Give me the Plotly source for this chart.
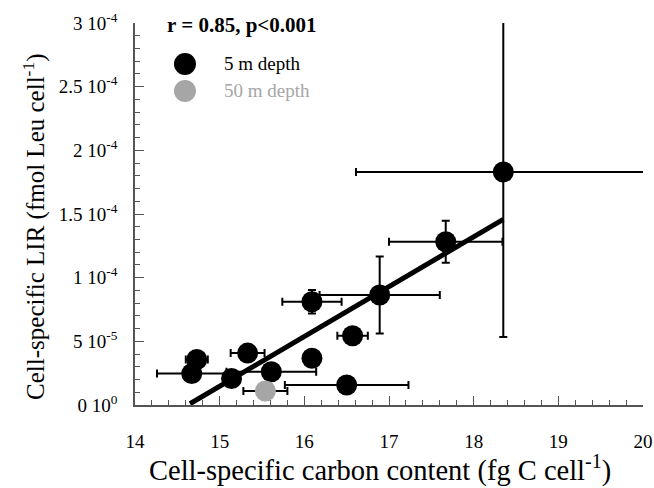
import plotly.graph_objects as go

# 5 m depth data
x5 = [14.73, 14.67, 15.14, 15.33, 15.61, 16.09, 16.09, 16.57, 16.50, 16.89, 17.67, 18.35]
y5 = [3.57e-5, 2.47e-5, 2.08e-5, 4.08e-5, 2.61e-5, 8.11e-5, 3.67e-5, 5.44e-5, 1.57e-5, 8.64e-5, 1.282e-4, 1.83e-4]
x5_err = [0.13, 0.41, 0.0, 0.20, 0.53, 0.35, 0.0, 0.18, 0.73, 0.71, 0.67, 1.74]
y5_err = [0.0, 0.0, 0.0, 0.0, 0.0, 0.92e-5, 0.0, 0.0, 0.0, 3.02e-5, 1.65e-5, 1.295e-4]

# 50 m depth data
x50 = [15.54]
y50 = [1.10e-5]
x50_err = [0.26]
y50_err = [0.0]

# regression line endpoints
fit_x = [14.65, 18.35]
fit_y = [0.1e-5, 1.458e-4]

ytick_vals = [0, 5e-5, 1e-4, 1.5e-4, 2e-4, 2.5e-4, 3e-4]
ytick_text = ["0 10<sup>0</sup>", "5 10<sup>-5</sup>", "1 10<sup>-4</sup>", "1.5 10<sup>-4</sup>",
              "2 10<sup>-4</sup>", "2.5 10<sup>-4</sup>", "3 10<sup>-4</sup>"]
xtick_vals = [14, 15, 16, 17, 18, 19, 20]

legend_labels = ["5 m depth", "50 m depth"]

FONT = "Liberation Serif, Times New Roman, serif"
GRAY = "#a6a6a6"
AXC = "#555555"

fig = go.Figure()

fig.add_trace(go.Scatter(
    x=fit_x, y=fit_y, mode="lines", line=dict(color="black", width=5),
    showlegend=False, hoverinfo="skip"))

fig.add_trace(go.Scatter(
    x=x5, y=y5, mode="markers", name=legend_labels[0], showlegend=False,
    marker=dict(color="black", size=21),
    error_x=dict(type="data", array=x5_err, color="black", thickness=2, width=4),
    error_y=dict(type="data", array=y5_err, color="black", thickness=2, width=4)))

fig.add_trace(go.Scatter(
    x=x50, y=y50, mode="markers", name=legend_labels[1], showlegend=False,
    marker=dict(color=GRAY, size=21),
    error_x=dict(type="data", array=x50_err, color="black", thickness=2, width=4),
    error_y=dict(type="data", array=y50_err, color="black", thickness=2, width=4)))

axis_common = dict(
    showline=True, linecolor=AXC, linewidth=1.5, mirror=False,
    showgrid=False, zeroline=False,
    ticks="inside", ticklen=9, tickwidth=1.2, tickcolor=AXC,
    tickfont=dict(family=FONT, size=19, color="black"),
)

fig.update_xaxes(
    range=[14, 20], tickvals=xtick_vals,
    minor=dict(ticks="inside", ticklen=5, tickcolor=AXC, dtick=0.2, tick0=14),
    ticklabelstandoff=18, **axis_common)

fig.update_yaxes(
    range=[0, 3e-4], tickvals=ytick_vals, ticktext=ytick_text,
    minor=dict(ticks="inside", ticklen=5, tickcolor=AXC, dtick=1e-5, tick0=0),
    ticklabelstandoff=12, **axis_common)

# axis titles
fig.add_annotation(
    x=0.482, y=-0.167, xref="paper", yref="paper", xanchor="center", yanchor="middle",
    text="Cell-specific carbon content (fg C cell<sup>-1</sup>)", showarrow=False,
    font=dict(family=FONT, size=28.5, color="black"))
fig.add_annotation(
    x=-0.197, y=0.466, xref="paper", yref="paper", xanchor="center", yanchor="middle",
    text="Cell-specific LIR (fmol Leu cell<sup>-1</sup>)", showarrow=False, textangle=-90,
    font=dict(family=FONT, size=25, color="black"))

# correlation text
fig.add_annotation(
    x=0.059, y=0.995, xref="paper", yref="paper", xanchor="left", yanchor="middle",
    text="<b>r = 0.85, p<0.001</b>", showarrow=False,
    font=dict(family=FONT, size=21, color="black"))

# legend (drawn manually)
leg_rows = [(0.8927, "black", "black"), (0.822, GRAY, GRAY)]
for (yy, mcol, tcol), lab in zip(leg_rows, legend_labels):
    fig.add_shape(type="circle", xref="paper", yref="paper",
                  xsizemode="pixel", ysizemode="pixel", xanchor=0.0984, yanchor=yy,
                  x0=-11, x1=11, y0=-11, y1=11, fillcolor=mcol, line=dict(width=0))
    fig.add_annotation(x=0.1713, y=yy, xref="paper", yref="paper", xanchor="left",
                       yanchor="middle", text=lab, showarrow=False,
                       font=dict(family=FONT, size=19, color=tcol))

fig.update_layout(
    width=654, height=488,
    margin=dict(l=135, r=11, t=23, b=83, autoexpand=False),
    paper_bgcolor="white", plot_bgcolor="white",
    font=dict(family=FONT, size=16, color="black"),
    showlegend=False,
)

fig.write_html("out.html")
